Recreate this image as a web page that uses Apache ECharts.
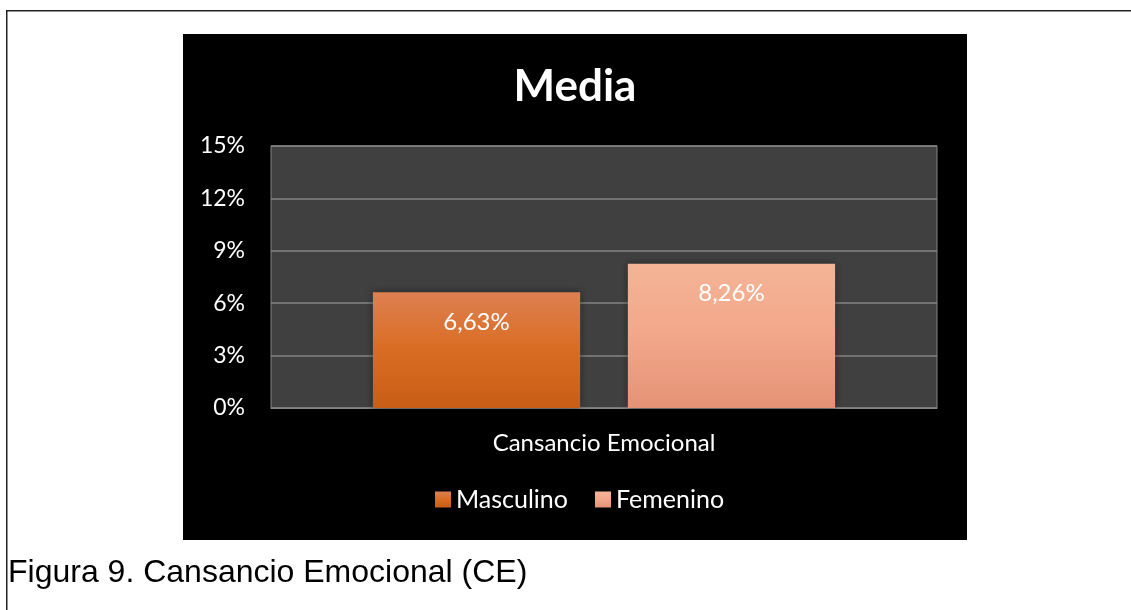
<!DOCTYPE html>
<html>
<head>
<meta charset="utf-8">
<script src="https://cdn.jsdelivr.net/npm/echarts@6/dist/echarts.min.js"></script>
<style>
  html, body { margin: 0; padding: 0; background: #ffffff; }
  #chart { width: 1131px; height: 610px; }
</style>
</head>
<body>
<div id="chart"></div>
<script>
// Chart data
const categories = ['Cansancio Emocional'];
const seriesNames = ['Masculino', 'Femenino'];
const masculino = [6.63];
const femenino = [8.26];
const yTicks = [0, 3, 6, 9, 12, 15];

const fmt = v => v.toFixed(2).replace('.', ',') + '%';
const FONT = 'Lato';

const gradMasc = new echarts.graphic.LinearGradient(0, 0, 0, 1, [
  { offset: 0, color: '#de8052' },
  { offset: 0.5, color: '#d96c22' },
  { offset: 1, color: '#c85e16' }
]);
const gradFem = new echarts.graphic.LinearGradient(0, 0, 0, 1, [
  { offset: 0, color: '#f4b496' },
  { offset: 0.5, color: '#f3a78a' },
  { offset: 1, color: '#e49276' }
]);

const labelCfg = {
  show: true,
  position: 'insideTop',
  distance: 18,
  color: '#ffffff',
  fontFamily: FONT,
  fontSize: 24,
  formatter: p => fmt(p.value)
};

const chart = echarts.init(document.getElementById('chart'), null, { renderer: 'canvas' });
chart.setOption({
  animation: false,
  backgroundColor: '#ffffff',
  graphic: [
    // page frame lines
    { type: 'rect', shape: { x: 6, y: 10, width: 1130, height: 1.5 }, style: { fill: '#222' }, z: -10 },
    { type: 'rect', shape: { x: 6, y: 10, width: 1.5, height: 600 }, style: { fill: '#222' }, z: -10 },
    // chart panel
    { type: 'rect', shape: { x: 183, y: 34, width: 784, height: 506 }, style: { fill: '#000000' }, z: -10 },
    // chart title
    {
      type: 'text', x: 575, y: 87, z: 10,
      style: {
        text: 'Media', fill: '#ffffff', align: 'center', verticalAlign: 'middle',
        font: 'bold 44px Lato, sans-serif'
      }
    },
    // caption
    {
      type: 'text', left: 8, top: 557, z: 10,
      style: { text: 'Figura 9. Cansancio Emocional (CE)', fill: '#000', font: '32px "Liberation Sans", Arial, sans-serif' }
    }
  ],
  legend: {
    data: seriesNames,
    left: 430,
    top: 482,
    itemWidth: 16,
    itemHeight: 16,
    itemGap: 27,
    icon: 'rect',
    textStyle: { color: '#ffffff', fontFamily: FONT, fontSize: 25 }
  },
  grid: {
    left: 271, right: 194, top: 146, bottom: 202,
    show: true,
    backgroundColor: '#404040',
    borderColor: '#858585',
    borderWidth: 1
  },
  xAxis: {
    type: 'category',
    data: categories,
    axisLine: { show: true, lineStyle: { color: '#858585' } },
    axisTick: { show: false },
    axisLabel: { color: '#ffffff', fontFamily: FONT, fontSize: 24, margin: 23 }
  },
  yAxis: {
    type: 'value',
    min: yTicks[0],
    max: yTicks[yTicks.length - 1],
    interval: yTicks[1] - yTicks[0],
    axisLine: { show: false },
    axisTick: { show: false },
    splitLine: { lineStyle: { color: '#858585', width: 1.5 } },
    axisLabel: { color: '#ffffff', fontFamily: FONT, fontSize: 23, margin: 26, formatter: v => v + '%' }
  },
  series: [
    {
      name: seriesNames[0], type: 'bar', data: masculino,
      barGap: '23%', barCategoryGap: '30.6%',
      itemStyle: { color: gradMasc, shadowBlur: 8, shadowColor: 'rgba(0,0,0,0.45)' },
      label: labelCfg
    },
    {
      name: seriesNames[1], type: 'bar', data: femenino,
      itemStyle: { color: gradFem, shadowBlur: 8, shadowColor: 'rgba(0,0,0,0.45)' },
      label: labelCfg
    }
  ]
});
</script>
</body>
</html>
